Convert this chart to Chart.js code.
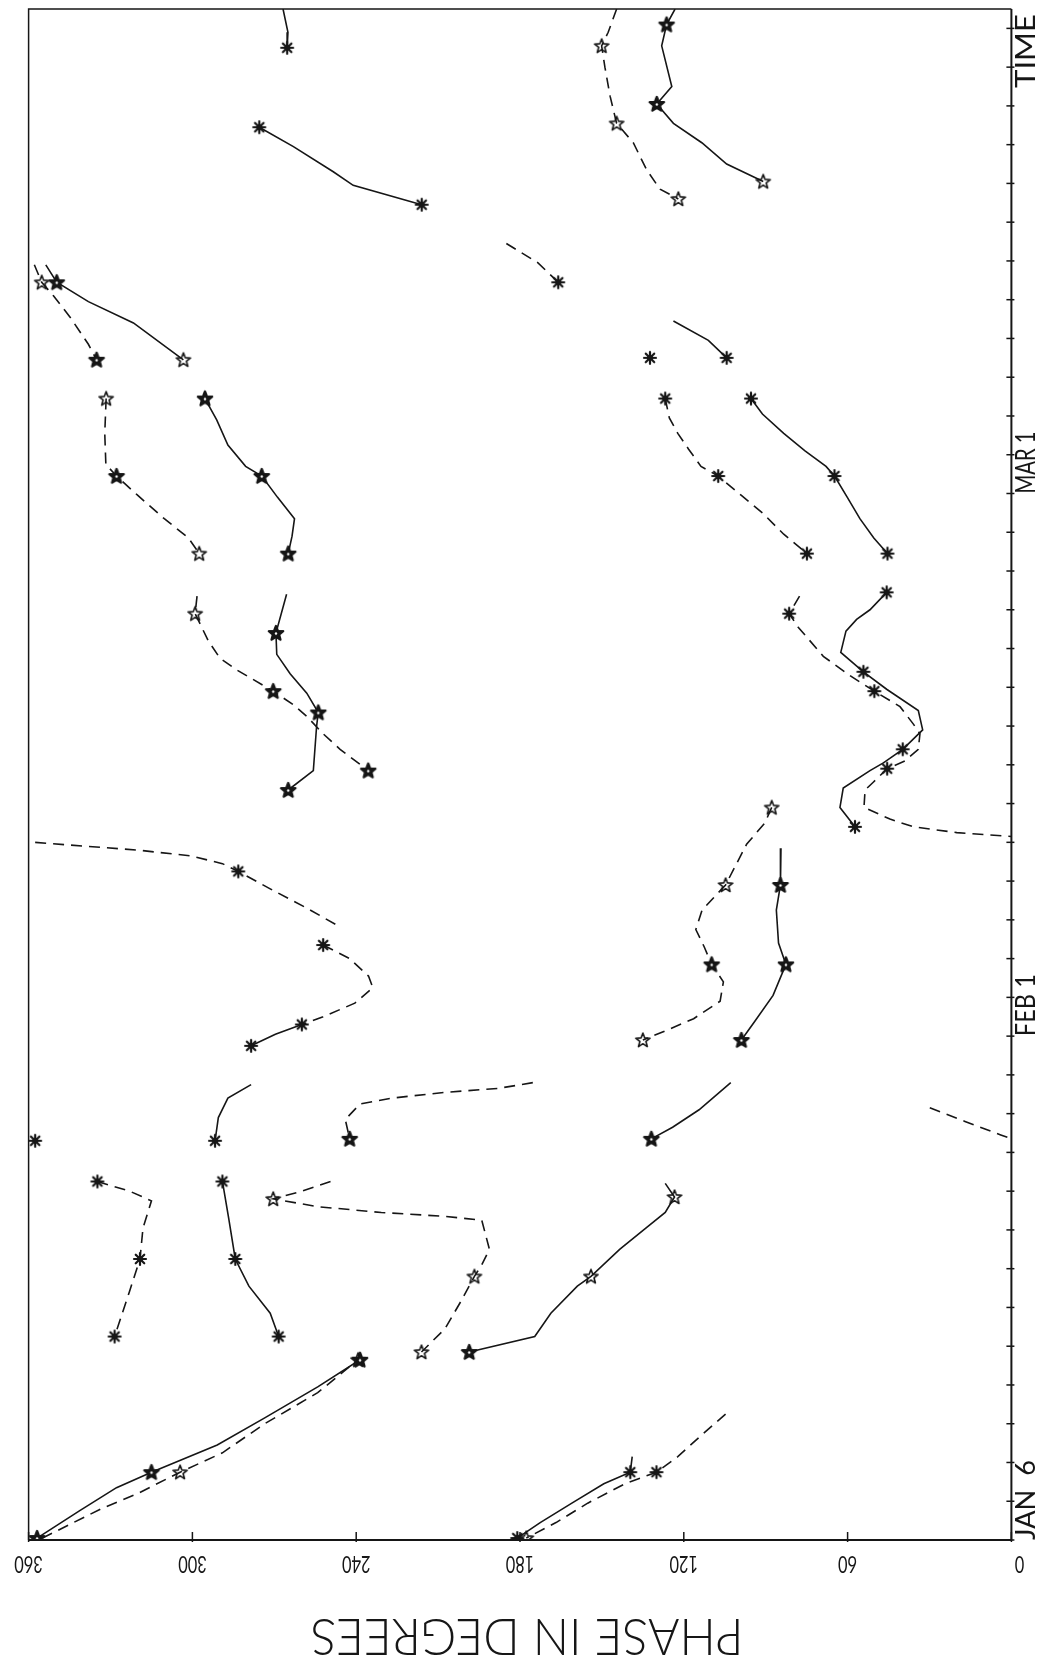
<!DOCTYPE html>
<html lang="en">

<head>
    <meta charset="UTF-8">
    <title>Phase in Degrees vs Time</title>
    <script src="https://cdn.jsdelivr.net/npm/chart.js"></script>
    <style>
        body { margin: 0; background: #fff; }
        canvas { display: block; }
    </style>
</head>

<body>
    <canvas id="phaseChart" width="1040" height="1660"></canvas>

    <script>
        // Each segment: [day since Jan 6, phase in degrees, marker]
        // marker: 'a' = asterisk, 'o' = open star, 'f' = bold star, '' = none

        // solid segments
        const sA = [[79.0, 266.8, ''], [77.8, 265.0, ''], [77.0, 265.3, 'a']];
        const sB = [[72.9, 275.5, 'a'], [71.9, 263.0, ''], [70.6, 248.4, ''], [69.9, 241.1, ''], [68.9, 216.0, 'a']];
        const sC = [[79.0, 123.2, ''], [78.2, 126.3, 'f'], [77.1, 128.1, ''], [75.0, 124.4, ''], [74.1, 129.9, 'f'], [73.1, 123.8, ''], [72.1, 113.4, ''], [71.0, 104.3, ''], [70.1, 90.9, 'o']];
        const sD = [[65.8, 353.7, ''], [64.9, 349.7, 'f'], [63.9, 338.1, ''], [62.8, 321.6, ''], [60.9, 303.3, 'o']];
        const sE = [[58.9, 295.4, 'f'], [57.8, 291.1, ''], [56.5, 287.0, ''], [55.4, 280.5, ''], [54.9, 274.6, 'f'], [53.8, 268.8, ''], [52.7, 262.6, ''], [51.8, 263.5, ''], [50.9, 264.9, 'f']];
        const sF = [[48.8, 265.5, ''], [46.8, 269.4, 'f'], [45.7, 269.1, ''], [44.7, 264.2, ''], [43.7, 258.1, ''], [42.7, 253.9, 'f'], [42.0, 254.5, ''], [39.7, 255.7, ''], [38.7, 264.9, 'f']];
        const sG = [[62.9, 123.8, ''], [61.9, 111.0, ''], [61.0, 104.3, 'a']];
        const sH = [[58.9, 95.4, 'a'], [58.1, 91.2, ''], [57.1, 83.4, ''], [56.2, 75.6, ''], [55.4, 67.9, ''], [54.9, 64.8, 'a'], [53.8, 60.1, ''], [52.7, 55.5, ''], [51.7, 50.4, ''], [50.9, 45.4, 'a']];
        const sI = [[48.9, 45.7, 'a'], [48.0, 51.8, ''], [47.5, 56.7, ''], [46.9, 60.6, ''], [45.8, 62.5, ''], [44.8, 54.2, 'a'], [43.9, 45.7, ''], [42.8, 34.1, ''], [41.8, 32.5, ''], [40.8, 39.8, 'a'], [40.1, 46.9, ''], [39.7, 51.8, ''], [38.8, 61.6, ''], [37.8, 62.8, ''], [36.8, 57.3, 'a']];
        const sJ = [[35.7, 84.4, ''], [33.8, 84.6, 'f'], [32.5, 86.1, ''], [30.8, 85.3, ''], [29.7, 82.6, 'f'], [28.1, 87.3, ''], [26.7, 94.3, ''], [25.8, 98.9, 'f']];
        const sK = [[26.6, 259.9, 'a'], [26.1, 269.6, ''], [25.5, 278.5, 'a']];
        const sL = [[23.5, 278.5, ''], [22.8, 287.0, ''], [21.8, 290.5, ''], [20.6, 291.7, 'a']];
        const sM = [[18.5, 289.0, 'a'], [16.6, 286.7, ''], [14.5, 284.3, 'a'], [13.1, 279.3, ''], [11.7, 271.5, ''], [10.5, 268.4, 'a']];
        const sN = [[23.6, 102.8, ''], [22.2, 114.4, ''], [21.3, 124.1, ''], [20.7, 131.9, 'f']];
        const sO = [[18.4, 126.8, ''], [17.7, 123.4, 'o'], [16.9, 126.8, ''], [16.1, 133.8, ''], [15.0, 143.5, ''], [13.6, 154.0, 'o'], [13.1, 159.0, ''], [11.7, 168.7, ''], [10.5, 174.6, ''], [9.7, 198.6, 'f']];
        const sP = [[9.4, 236.6, ''], [9.3, 238.6, 'f'], [7.9, 254.1, ''], [6.3, 273.5, ''], [4.9, 290.9, ''], [3.5, 315.0, 'f'], [2.7, 327.8, ''], [1.5, 341.4, ''], [0.1, 356.9, 'f']];
        const sQ = [[4.3, 138.9, ''], [3.5, 139.6, 'a'], [2.9, 149.3, ''], [1.9, 161.0, ''], [0.9, 172.6, ''], [0.1, 181.0, 'a']];

        // dashed segments
        const dA = [[79.0, 144.6, ''], [77.8, 147.7, ''], [77.1, 150.1, 'o'], [76.0, 148.9, ''], [74.5, 147.0, ''], [73.1, 144.6, 'o'], [72.1, 138.5, ''], [70.7, 133.6, ''], [69.7, 128.7, ''], [69.2, 122.0, 'o']];
        const dB = [[66.9, 185.0, ''], [65.9, 173.4, ''], [64.9, 166.0, 'a']];
        const dC = [[65.8, 357.9, ''], [64.9, 355.2, 'o'], [64.2, 350.9, ''], [63.1, 344.8, ''], [61.7, 338.1, ''], [60.9, 335.1, 'f']];
        const dD = [[58.9, 331.6, 'o'], [57.1, 332.1, ''], [55.5, 331.7, ''], [54.9, 327.8, 'f'], [53.9, 320.0, ''], [52.7, 310.3, ''], [51.7, 301.4, ''], [50.9, 297.5, 'o']];
        const dE = [[48.7, 298.3, ''], [47.8, 299.0, 'o'], [46.4, 294.2, ''], [45.5, 289.9, ''], [44.9, 283.8, ''], [43.8, 270.4, 'f'], [43.1, 263.0, ''], [42.5, 258.1, ''], [41.6, 252.1, ''], [40.8, 245.9, ''], [39.7, 235.6, 'f']];
        const dG = [[58.9, 126.8, 'a'], [57.9, 125.3, ''], [57.1, 122.2, ''], [56.3, 118.3, ''], [55.4, 113.7, ''], [54.9, 107.4, 'a'], [53.9, 98.9, ''], [53.0, 91.2, ''], [51.9, 83.4, ''], [50.9, 74.9, 'a']];
        const dH = [[48.7, 77.6, ''], [47.8, 81.4, 'a'], [47.1, 78.1, ''], [45.6, 68.9, ''], [44.6, 59.1, ''], [43.8, 50.2, 'a'], [43.0, 40.8, ''], [42.1, 35.9, ''], [41.6, 33.5, ''], [40.8, 34.1, ''], [40.2, 39.0, ''], [39.8, 45.5, 'a'], [39.1, 50.6, ''], [38.7, 53.6, ''], [37.8, 54.0, ''], [37.2, 44.5, ''], [36.8, 35.9, ''], [36.5, 20.0, ''], [36.3, 0.0, '']];
        const dI = [[37.8, 87.8, 'o'], [37.0, 90.3, ''], [35.9, 97.0, ''], [33.8, 104.7, 'o'], [32.5, 113.3, ''], [31.5, 115.6, ''], [30.6, 112.5, ''], [29.7, 109.8, 'f'], [28.8, 105.5, ''], [27.8, 106.7, ''], [26.9, 116.4, ''], [26.2, 128.0, ''], [25.8, 135.0, 'o']];
        const dJ = [[36.0, 357.6, ''], [35.8, 339.4, ''], [35.6, 320.0, ''], [35.3, 300.6, ''], [34.9, 289.0, ''], [34.5, 283.2, 'a'], [33.6, 271.5, ''], [32.6, 258.0, ''], [31.6, 245.5, '']];
        const dK = [[30.7, 252.1, 'a'], [30.0, 242.4, ''], [29.1, 235.5, ''], [28.5, 233.9, ''], [27.7, 240.5, ''], [27.0, 252.1, ''], [26.6, 259.9, '']];
        const dL = [[23.6, 175.3, ''], [23.3, 188.1, ''], [23.1, 207.5, ''], [22.8, 226.9, ''], [22.5, 238.6, ''], [21.7, 244.0, ''], [20.7, 242.4, 'f']];
        const dM = [[22.3, 29.9, ''], [21.6, 17.0, ''], [20.9, 3.9, ''], [20.7, 0.0, '']];
        const dO = [[18.5, 334.8, 'a'], [18.0, 323.0, ''], [17.5, 315.0, ''], [16.1, 318.1, ''], [14.5, 319.2, 'a'], [12.8, 323.1, ''], [10.5, 328.5, 'a']];
        const dP = [[18.5, 249.4, ''], [18.0, 259.9, ''], [17.6, 270.4, 'o'], [17.2, 254.1, ''], [16.9, 230.8, ''], [16.7, 207.5, ''], [16.5, 194.0, ''], [15.0, 191.2, ''], [14.2, 194.0, ''], [13.6, 196.7, 'o'], [12.3, 201.7, ''], [10.9, 207.5, ''], [9.7, 216.1, 'o']];
        const dQ = [[9.4, 237.0, ''], [9.3, 239.3, 'o'], [7.6, 254.1, ''], [6.0, 273.5, ''], [4.5, 289.0, ''], [3.5, 304.5, 'o'], [2.4, 320.0, ''], [1.6, 333.6, ''], [0.1, 354.9, '']];
        const dR = [[6.5, 104.7, ''], [5.3, 114.4, ''], [4.3, 122.2, ''], [3.5, 130.0, 'a'], [2.9, 141.6, ''], [1.9, 155.2, ''], [0.9, 166.8, ''], [0.1, 177.7, 'o']];

        // single markers with no line
        const loneMarks = [[61.0, 132.4, 'a'], [20.6, 357.6, 'a']];

        const solidSegs = [sA, sB, sC, sD, sE, sF, sG, sH, sI, sJ, sK, sL, sM, sN, sO, sP, sQ];
        const dashedSegs = [dA, dB, dC, dD, dE, dG, dH, dI, dJ, dK, dL, dM, dO, dP, dQ, dR];

        // axes
        const phaseTicks = [360, 300, 240, 180, 120, 60, 0];
        const dayTicks = [];
        for (let d = 0; d <= 78; d += 2) dayTicks.push(d);
        const dateText = ['JAN  6', 'FEB 1', 'MAR 1'];
        const dateDay = [0, 26, 54];

        const INK = '#161616';
        const FONT = '"Lato", "DejaVu Sans"';

        // marker images
        function starImg(bold) {
            const c = document.createElement('canvas');
            c.width = 20; c.height = 20;
            const g = c.getContext('2d');
            g.translate(10, 10.5);
            g.beginPath();
            for (let i = 0; i < 10; i++) {
                const r = i % 2 === 0 ? 7.5 : 3.2;
                const a = -Math.PI / 2 + i * Math.PI / 5;
                g.lineTo(r * Math.cos(a), r * Math.sin(a));
            }
            g.closePath();
            g.lineJoin = 'round';
            g.strokeStyle = INK;
            g.lineWidth = bold ? 2.4 : 1.6;
            g.stroke();
            if (bold) {
                g.fillStyle = INK;
                g.fill();
                g.fillStyle = '#fff';
                g.beginPath();
                g.arc(0, 0, 1.2, 0, Math.PI * 2);
                g.fill();
            }
            return c;
        }

        function asteriskImg() {
            const c = document.createElement('canvas');
            c.width = 16; c.height = 16;
            const g = c.getContext('2d');
            g.translate(8, 8);
            g.strokeStyle = INK;
            g.lineWidth = 2.2;
            g.lineCap = 'round';
            for (let i = 0; i < 4; i++) {
                const a = i * Math.PI / 4;
                g.beginPath();
                g.moveTo(-6 * Math.cos(a), -6 * Math.sin(a));
                g.lineTo(6 * Math.cos(a), 6 * Math.sin(a));
                g.stroke();
            }
            g.fillStyle = INK;
            g.beginPath();
            g.arc(0, 0, 3, 0, Math.PI * 2);
            g.fill();
            return c;
        }

        const markImg = { a: asteriskImg(), o: starImg(false), f: starImg(true) };

        function makeSet(seg, dashed, line) {
            return {
                data: seg.map(p => ({ x: p[1], y: p[0] })),
                showLine: line,
                borderColor: INK,
                borderWidth: 1.6,
                borderDash: dashed ? [11, 7] : [],
                tension: 0,
                pointStyle: c => {
                    const p = seg[c.dataIndex];
                    return (p && markImg[p[2]]) || 'circle';
                },
                pointRadius: c => {
                    const p = seg[c.dataIndex];
                    return p && p[2] ? 7 : 0;
                }
            };
        }

        const datasets = [];
        solidSegs.forEach(s => datasets.push(makeSet(s, false, true)));
        dashedSegs.forEach(s => datasets.push(makeSet(s, true, true)));
        datasets.push(makeSet(loneMarks, false, false));

        // draws text squeezed to a given length, rotated round its centre
        function fitText(ctx, text, cx, cy, angle, size, len, weight) {
            ctx.save();
            ctx.translate(cx, cy);
            ctx.rotate(angle);
            ctx.font = weight + ' ' + size + 'px ' + FONT;
            const w = ctx.measureText(text).width;
            ctx.scale(len / w, 1);
            ctx.textAlign = 'center';
            ctx.textBaseline = 'alphabetic';
            ctx.fillStyle = INK;
            ctx.fillText(text, 0, size * 0.36);
            ctx.restore();
        }

        // frame, tick marks and all labels
        const framePlugin = {
            id: 'frame',
            afterDraw(chart) {
                const ctx = chart.ctx;
                const a = chart.chartArea;
                const xs = chart.scales.x;
                const ys = chart.scales.y;
                ctx.save();
                ctx.strokeStyle = INK;

                ctx.lineWidth = 1.5;
                ctx.beginPath();
                ctx.moveTo(a.left, a.bottom);
                ctx.lineTo(a.left, a.top);
                ctx.lineTo(a.right, a.top);
                ctx.stroke();

                ctx.lineWidth = 2;
                ctx.beginPath();
                ctx.moveTo(a.left, a.bottom);
                ctx.lineTo(a.right + 1, a.bottom);
                ctx.moveTo(a.right, a.top);
                ctx.lineTo(a.right, a.bottom);
                ctx.stroke();

                // phase ticks along the bottom
                ctx.lineWidth = 1.5;
                phaseTicks.forEach(v => {
                    const x = xs.getPixelForValue(v);
                    ctx.beginPath();
                    ctx.moveTo(x, a.bottom - 8);
                    ctx.lineTo(x, a.bottom + 2);
                    ctx.stroke();
                    const lbl = String(v);
                    const off = v === 0 ? 8 : 0;
                    fitText(ctx, lbl, x + off, a.bottom + 25, Math.PI, 24, lbl.length * 9.5, 400);
                });

                // time ticks along the right side
                dayTicks.forEach(d => {
                    const y = ys.getPixelForValue(d);
                    ctx.beginPath();
                    ctx.moveTo(a.right - 5, y);
                    ctx.lineTo(a.right + 3, y);
                    ctx.stroke();
                });

                // date labels read upwards, starting at their tick
                dateText.forEach((t, i) => {
                    const y0 = ys.getPixelForValue(dateDay[i]);
                    const len = i === 0 ? 80 : 62;
                    fitText(ctx, t, a.right + 14, y0 - len / 2, -Math.PI / 2, 27, len, 400);
                });
                fitText(ctx, 'TIME', a.right + 14, 51, -Math.PI / 2, 27, 74, 400);

                // axis title, upside down
                fitText(ctx, 'PHASE IN DEGREES', 527, 1638, Math.PI, 52, 433, 300);
                ctx.restore();
            }
        };

        new Chart(document.getElementById('phaseChart').getContext('2d'), {
            type: 'scatter',
            data: { datasets: datasets },
            options: {
                responsive: false,
                animation: false,
                events: [],
                layout: {
                    padding: { left: 28.6, right: 28.6, top: 9, bottom: 120 }
                },
                scales: {
                    x: { type: 'linear', min: 0, max: 360, reverse: true, display: false },
                    y: { type: 'linear', min: 0, max: 79, display: false }
                },
                plugins: {
                    legend: { display: false },
                    tooltip: { enabled: false }
                }
            },
            plugins: [framePlugin]
        });
    </script>
</body>

</html>
